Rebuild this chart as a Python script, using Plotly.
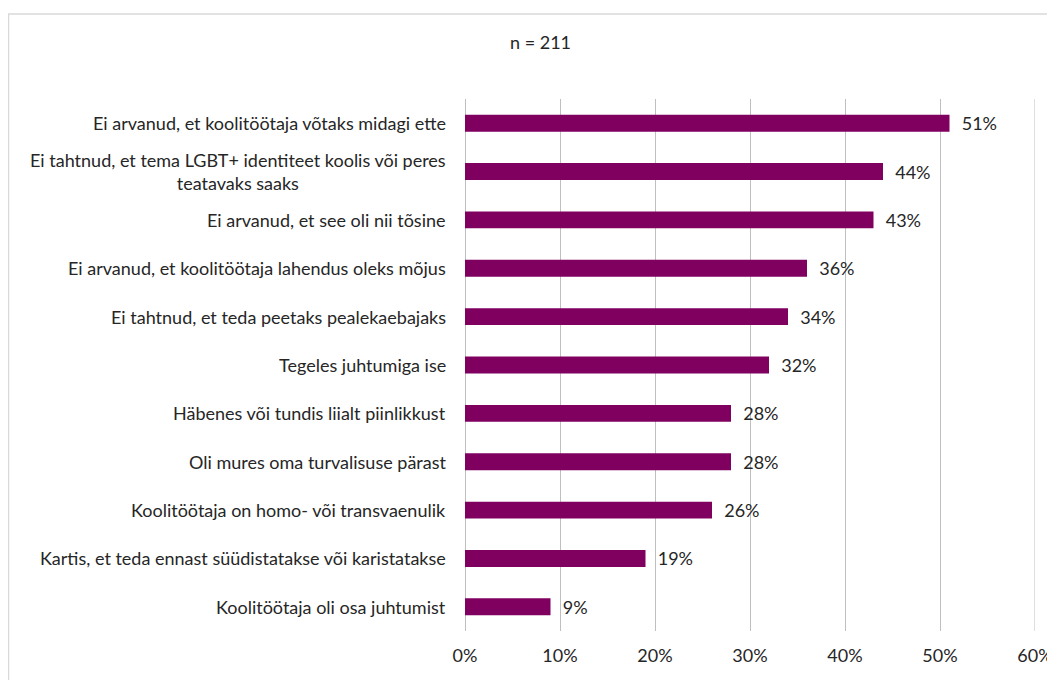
import plotly.graph_objects as go

categories = [
    "Ei arvanud, et koolitöötaja võtaks midagi ette",
    "Ei tahtnud, et tema LGBT+ identiteet koolis või peres<br>teatavaks saaks",
    "Ei arvanud, et see oli nii tõsine",
    "Ei arvanud, et koolitöötaja lahendus oleks mõjus",
    "Ei tahtnud, et teda peetaks pealekaebajaks",
    "Tegeles juhtumiga ise",
    "Häbenes või tundis liialt piinlikkust",
    "Oli mures oma turvalisuse pärast",
    "Koolitöötaja on homo- või transvaenulik",
    "Kartis, et teda ennast süüdistatakse või karistatakse",
    "Koolitöötaja oli osa juhtumist",
]
values = [0.51, 0.44, 0.43, 0.36, 0.34, 0.32, 0.28, 0.28, 0.26, 0.19, 0.09]
tick_vals = [0, 0.1, 0.2, 0.3, 0.4, 0.5, 0.6]
tick_text = ["0%", "10%", "20%", "30%", "40%", "50%", "60%"]
title_text = "n = 211"

FONT = "Lato"
FS = 18
TXT = "#262626"
GRID = "#bfbfbf"
ids = list(range(len(categories)))

# page body has an 8px margin, so the figure is drawn 8px offset
OFF = 8
L, T, PW, PH = 465 - OFF, 99 - OFF, 570, 532
W, H = 1047, 672

def px(x):
    return (x - OFF - L) / PW

def py(y):
    return (T + PH - (y - OFF)) / PH

fig = go.Figure(
    go.Bar(
        x=values,
        y=ids,
        orientation="h",
        width=0.35,
        marker=dict(color="#800060", line=dict(width=0)),
        text=["  " + f"{round(v*100)}%" for v in values],
        textposition="outside",
        constraintext="none",
        textfont=dict(family=FONT, size=FS, color=TXT),
        cliponaxis=False,
    )
)

for i, c in enumerate(categories):
    fig.add_annotation(
        x=px(448), y=i, xref="paper", yref="y", text=c, showarrow=False,
        xanchor="right", yanchor="middle", align="center",
        font=dict(family=FONT, size=FS, color=TXT),
    )

fig.add_annotation(
    x=px(540), y=py(42), xref="paper", yref="paper",
    text=title_text, showarrow=False, xanchor="center", yanchor="middle",
    font=dict(family=FONT, size=FS, color=TXT),
)

fig.add_shape(
    type="rect", xref="paper", yref="paper",
    x0=px(8.5), x1=px(1100), y0=py(720), y1=py(14),
    line=dict(color="#d9d9d9", width=1.5), fillcolor="rgba(0,0,0,0)", layer="below",
)

# gridline at the far end of the axis (plotly drops grid lines on the plot edge)
fig.add_shape(
    type="line", xref="x", yref="paper",
    x0=tick_vals[-1], x1=tick_vals[-1], y0=0, y1=1,
    line=dict(color=GRID, width=1), layer="below",
)

fig.update_layout(
    width=W, height=H,
    margin=dict(l=L, r=W - L - PW, t=T, b=H - T - PH, autoexpand=False),
    paper_bgcolor="white", plot_bgcolor="white",
    showlegend=False,
    xaxis=dict(
        range=[0, 0.6], tickvals=tick_vals, ticktext=tick_text,
        showgrid=True, gridcolor=GRID, gridwidth=1,
        zeroline=True, zerolinecolor=GRID, zerolinewidth=1,
        showline=False, ticks="", ticklabelstandoff=12,
        ticklabeloverflow="allow", automargin=False,
        tickfont=dict(family=FONT, size=FS, color=TXT), fixedrange=True,
    ),
    yaxis=dict(
        range=[len(categories) - 0.5, -0.5], showticklabels=False, automargin=False,
        showgrid=False, zeroline=False, showline=False, ticks="", fixedrange=True,
    ),
)

fig.write_html("out.html", config=dict(displayModeBar=False))
